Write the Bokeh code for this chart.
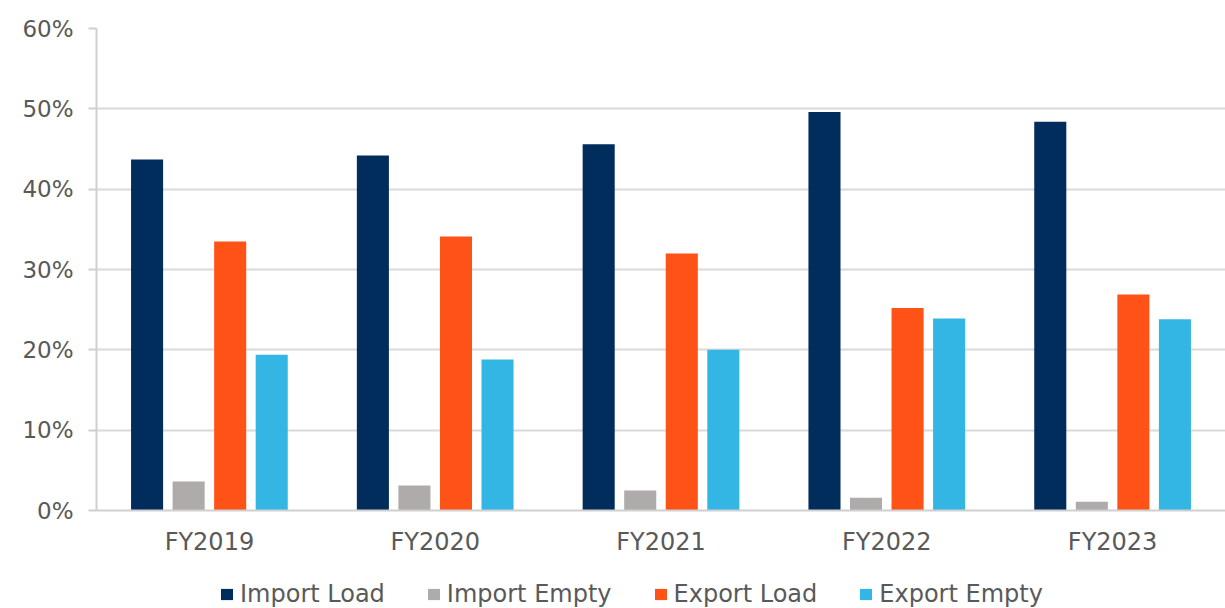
from bokeh.plotting import figure
from bokeh.layouts import column
from bokeh.models import (ColumnDataSource, FactorRange, Range1d, NumeralTickFormatter, Legend,
                          LegendItem, FixedTicker)
from bokeh.transform import dodge
from bokeh.embed import file_html
from bokeh.resources import INLINE

years = ["FY2019", "FY2020", "FY2021", "FY2022", "FY2023"]
import_load = [0.437, 0.442, 0.456, 0.496, 0.484]
import_empty = [0.036, 0.031, 0.025, 0.016, 0.011]
export_load = [0.335, 0.341, 0.320, 0.252, 0.269]
export_empty = [0.194, 0.188, 0.200, 0.239, 0.238]
series_names = ["Import Load", "Import Empty", "Export Load", "Export Empty"]
colors = ["#002D5C", "#AEABAA", "#FF5216", "#33B6E4"]
y_ticks = [0, 0.1, 0.2, 0.3, 0.4, 0.5, 0.6]

source = ColumnDataSource(dict(year=years, il=import_load, ie=import_empty,
                               el=export_load, ee=export_empty))

FONT = "DejaVu Sans"
TXT = "#595959"
offsets = [-0.276, -0.092, 0.092, 0.276]
cols = ["il", "ie", "el", "ee"]

p = figure(width=1225, height=560,
           x_range=FactorRange(*years, range_padding=0),
           y_range=Range1d(0, 0.6), output_backend="svg", toolbar_location=None,
           min_border_left=96, min_border_right=0, min_border_top=28, min_border_bottom=50)
p.outline_line_color = None

for off, c, col in zip(offsets, cols, colors):
    p.vbar(x=dodge("year", off, range=p.x_range), top=c, width=0.142, source=source,
           fill_color=col, line_color=None)

p.yaxis.ticker = FixedTicker(ticks=y_ticks)
p.yaxis.formatter = NumeralTickFormatter(format="0%")
p.yaxis.axis_line_color = "#CFCFCF"
p.yaxis.axis_line_width = 2
p.yaxis.major_tick_line_color = "#CFCFCF"
p.yaxis.major_tick_line_width = 2
p.yaxis.major_tick_out = 8
p.yaxis.major_tick_in = 0
p.yaxis.minor_tick_line_color = None
p.yaxis.major_label_text_font = FONT
p.yaxis.major_label_text_font_size = "23px"
p.yaxis.major_label_text_color = TXT
p.yaxis.major_label_standoff = 15

p.xaxis.axis_line_color = "#CFCFCF"
p.xaxis.axis_line_width = 2
p.xaxis.major_tick_line_color = None
p.xaxis.major_tick_out = 0
p.xaxis.major_tick_in = 0
p.xaxis.minor_tick_line_color = None
p.xaxis.major_label_text_font = FONT
p.xaxis.major_label_text_font_size = "24px"
p.xaxis.major_label_text_color = TXT
p.xaxis.major_label_standoff = 17

p.xgrid.grid_line_color = None
p.ygrid.grid_line_color = "#D9D9D9"
p.ygrid.grid_line_width = 2

# legend strip: same series drawn against a value range that keeps the bars out of view
lg = figure(width=1225, height=48, x_range=FactorRange(*years, range_padding=0),
            y_range=Range1d(5, 6), output_backend="svg", toolbar_location=None,
            x_axis_location=None, y_axis_location=None,
            min_border_left=0, min_border_right=0, min_border_top=0, min_border_bottom=0)
lg.outline_line_color = None
lg.xgrid.grid_line_color = None
lg.ygrid.grid_line_color = None
items = []
for off, c, name, col in zip(offsets, cols, series_names, colors):
    r = lg.vbar(x=dodge("year", off, range=lg.x_range), top=c, width=0.142, source=source,
                fill_color=col, line_color=None)
    items.append(LegendItem(label=name, renderers=[r]))

legend = Legend(items=items, orientation="horizontal", location=(123, 0),
                label_text_font=FONT, label_text_font_size="24px", label_text_color=TXT,
                glyph_width=15, glyph_height=14, spacing=41, label_standoff=6,
                border_line_color=None, background_fill_alpha=0, margin=0, padding=0)
lg.add_layout(legend)

layout = column(p, lg, spacing=0)
open("out.html", "w").write(file_html(layout, INLINE))
